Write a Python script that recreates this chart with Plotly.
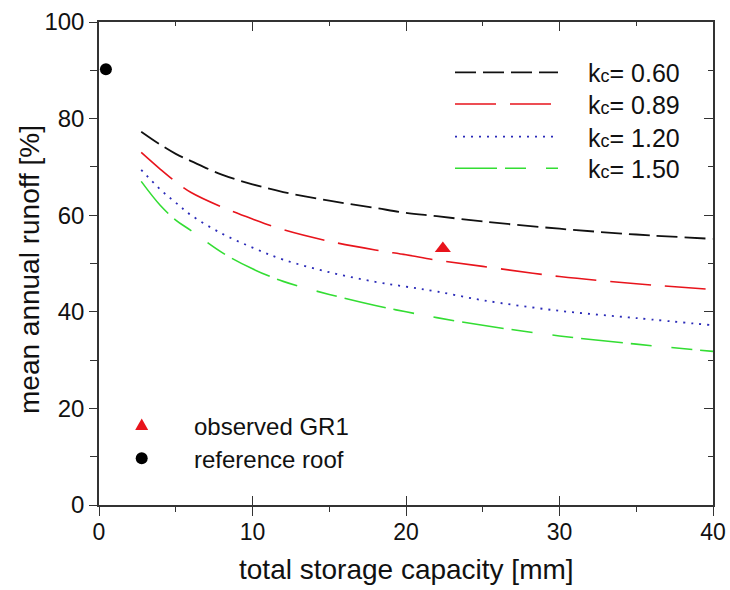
import plotly.graph_objects as go

# Simulated mean annual runoff vs. total storage capacity for four crop coefficients
storage_mm = [2.75, 4, 5, 6, 8, 10, 12, 15, 18, 20, 22, 25, 30, 35, 40]
runoff_kc060 = [77.3, 74.6, 72.7, 71.2, 68.4, 66.4, 64.8, 63.0, 61.5, 60.5, 59.8, 58.7, 57.2, 56.0, 55.1]
runoff_kc089 = [73.0, 69.5, 66.9, 64.7, 61.7, 59.2, 57.0, 54.6, 52.8, 51.8, 50.7, 49.4, 47.3, 45.8, 44.6]
runoff_kc120 = [69.4, 65.3, 62.6, 60.0, 56.2, 53.3, 50.8, 48.2, 46.2, 45.2, 44.2, 42.4, 40.2, 38.7, 37.2]
runoff_kc150 = [67.0, 62.0, 59.0, 56.8, 52.3, 48.9, 46.3, 43.6, 41.3, 40.0, 38.8, 37.2, 35.0, 33.3, 31.8]
kc_labels = ["0.60", "0.89", "1.20", "1.50"]

# Measured points
observed_storage = [22.4]
observed_runoff = [53.1]
reference_storage = [0.45]
reference_runoff = [90.2]

FONT = "Liberation Sans, Arial, sans-serif"
AXIS_COLOR = "#333333"
W, H = 730, 590
M_L, M_R, M_T, M_B = 99, 17, 22, 85
PW, PH = W - M_L - M_R, H - M_T - M_B


def px_x(px):
    return (px - M_L) / PW


def px_y(py):
    return (H - M_B - py) / PH


styles = [
    dict(color="#111111", dash="21px,7px", width=1.8),
    dict(color="#e8141c", dash="41px,14px", width=1.6),
    dict(color="#2a2ab8", dash="2px,6px", width=1.8),
    dict(color="#33dd33", dash="42px,8px,21px,20px,21px,8px", width=1.6),
]
series = [runoff_kc060, runoff_kc089, runoff_kc120, runoff_kc150]

fig = go.Figure()
for vals, st in zip(series, styles):
    fig.add_trace(go.Scatter(x=storage_mm, y=vals, mode="lines",
                             line=dict(color=st["color"], dash=st["dash"], width=st["width"], shape="spline"),
                             showlegend=False, hoverinfo="skip"))

# Point markers sit on the frame axes (same ranges as the main axes)
fig.add_trace(go.Scatter(x=observed_storage, y=observed_runoff, mode="markers",
                         xaxis="x2", yaxis="y",
                         marker=dict(symbol="triangle-up", size=14, color="#e8141c"),
                         showlegend=False))
fig.add_trace(go.Scatter(x=reference_storage, y=reference_runoff, mode="markers",
                         xaxis="x3", yaxis="y2",
                         marker=dict(symbol="circle", size=12, color="black"),
                         showlegend=False))

shapes = []
annotations = []

# Line-style key in the upper right
row_y = [72.3, 104.0, 136.7, 168.3]
for ry, st, lab in zip(row_y, styles, kc_labels):
    shapes.append(dict(type="line", xref="paper", yref="paper",
                       x0=px_x(455), x1=px_x(558), y0=px_y(ry), y1=px_y(ry),
                       line=dict(color=st["color"], dash=st["dash"], width=st["width"])))
    annotations.append(dict(xref="paper", yref="paper", x=px_x(586), y=px_y(ry),
                            xanchor="left", yanchor="middle", yshift=-1, showarrow=False,
                            text="k<span style='font-size:18px'>c</span>= " + lab,
                            font=dict(family=FONT, size=25, color="#111111")))

# Marker key in the lower left
sym_x = px_x(141.7)
shapes.append(dict(type="path", xref="paper", yref="paper", xsizemode="pixel", ysizemode="pixel",
                   xanchor=sym_x, yanchor=px_y(425),
                   path="M -6.5,-5 L 6.5,-5 L 0,6.5 Z",
                   fillcolor="#e8141c", line=dict(width=0)))
shapes.append(dict(type="circle", xref="paper", yref="paper", xsizemode="pixel", ysizemode="pixel",
                   xanchor=sym_x, yanchor=px_y(458.3), x0=-6, x1=6, y0=-6, y1=6,
                   fillcolor="black", line=dict(width=0)))
for ry, lab in [(425, "observed GR1"), (458.3, "reference roof")]:
    annotations.append(dict(xref="paper", yref="paper", x=px_x(192), y=px_y(ry),
                            xanchor="left", yanchor="middle", yshift=-1, showarrow=False,
                            text=lab, font=dict(family=FONT, size=24, color="#111111")))

# Axis titles placed as annotations for exact positioning
annotations.append(dict(xref="paper", yref="paper", x=px_x(406), y=px_y(569),
                        xanchor="center", yanchor="middle", showarrow=False,
                        text="total storage capacity [mm]",
                        font=dict(family=FONT, size=28, color="#111111")))
annotations.append(dict(xref="paper", yref="paper", x=px_x(29), y=px_y(270),
                        xanchor="center", yanchor="middle", showarrow=False, textangle=-90,
                        text="mean annual runoff [%]",
                        font=dict(family=FONT, size=28, color="#111111")))

common = dict(showgrid=False, zeroline=False, automargin=False)
fig.update_layout(
    width=W, height=H,
    margin=dict(l=M_L, r=M_R, t=M_T, b=M_B, autoexpand=False),
    plot_bgcolor="white", paper_bgcolor="white",
    showlegend=False,
    font=dict(family=FONT, color="#111111"),
    shapes=shapes, annotations=annotations,
    xaxis=dict(range=[0, 40], dtick=10, tick0=0, ticks="outside", ticklen=9, tickwidth=1.3,
               tickcolor=AXIS_COLOR, showline=True, linecolor=AXIS_COLOR, linewidth=1.5,
               minor=dict(dtick=5, ticks="outside", ticklen=5, tickwidth=1.3, tickcolor=AXIS_COLOR),
               tickfont=dict(size=23), ticklabelstandoff=-3, **common),
    xaxis2=dict(overlaying="x", side="bottom", range=[0, 40], dtick=10, tick0=0,
                ticks="inside", ticklen=9, tickwidth=1.3, tickcolor=AXIS_COLOR,
                showticklabels=False, showline=False, **common),
    xaxis3=dict(overlaying="x", side="top", range=[0, 40], dtick=10, tick0=0,
                ticks="inside", ticklen=9, tickwidth=1.3, tickcolor=AXIS_COLOR,
                minor=dict(dtick=5, ticks="inside", ticklen=4, tickwidth=1.3, tickcolor=AXIS_COLOR),
                showticklabels=False, showline=True, linecolor=AXIS_COLOR, linewidth=1.5,
                **common),
    yaxis=dict(range=[0, 100], dtick=20, tick0=0, ticks="outside", ticklen=8, tickwidth=1.3,
               tickcolor=AXIS_COLOR, showline=True, linecolor=AXIS_COLOR, linewidth=1.5,
               minor=dict(dtick=10, ticks="outside", ticklen=7, tickwidth=1.3, tickcolor=AXIS_COLOR),
               tickfont=dict(size=24), **common),
    yaxis2=dict(overlaying="y", side="right", range=[0, 100], dtick=20, tick0=0,
                ticks="inside", ticklen=9, tickwidth=1.3, tickcolor=AXIS_COLOR,
                minor=dict(dtick=10, ticks="inside", ticklen=5, tickwidth=1.3, tickcolor=AXIS_COLOR),
                showticklabels=False, showline=True, linecolor=AXIS_COLOR, linewidth=1.5,
                **common),
)

fig.write_html("out.html")
